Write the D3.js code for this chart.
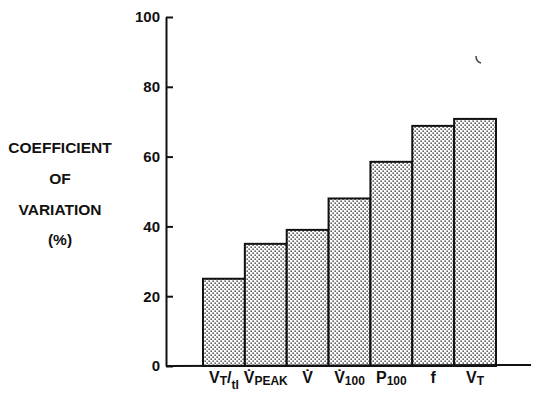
<!DOCTYPE html>
<html>
<head>
<meta charset="utf-8">
<script src="https://cdn.jsdelivr.net/npm/d3@7"></script>
<style>
  body { margin: 0; background: #fff; }
  svg { font-family: "Liberation Sans", Arial, sans-serif; font-weight: bold; }
</style>
</head>
<body>
<div id="chart"></div>
<script>
  // categories, as pieces: main text + subscript (+ dot over V for flow terms)
  const categories = ['VT/tI', 'VPEAK', 'Vdot', 'V100', 'P100', 'f', 'VT'];
  const labelParts = [
    [{ t: 'V' }, { t: 'T', sub: true }, { t: '/' }, { t: 'tI', sub: true, low: true }],
    [{ t: 'V\u0307' }, { t: 'PEAK', sub: true }],
    [{ t: 'V\u0307' }],
    [{ t: 'V\u0307' }, { t: '100', sub: true }],
    [{ t: 'P' }, { t: '100', sub: true }],
    [{ t: 'f' }],
    [{ t: 'V' }, { t: 'T', sub: true }]
  ];
  const values = [25, 35, 39, 48, 58.5, 68.8, 70.8];
  const yTicks = [0, 20, 40, 60, 80, 100];
  const yTitle = ['COEFFICIENT', 'OF', 'VARIATION', '(%)'];

  const W = 534, H = 396;
  const axisX = 166;

  const svg = d3.select('#chart')
    .append('svg')
      .attr('width', W)
      .attr('height', H);

  // dotted screen fill
  const defs = svg.append('defs');
  const pat = defs.append('pattern')
    .attr('id', 'dots')
    .attr('patternUnits', 'userSpaceOnUse')
    .attr('width', 4)
    .attr('height', 4);
  pat.append('rect').attr('width', 4).attr('height', 4).attr('fill', '#fff');
  pat.append('rect').attr('x', 0.5).attr('y', 0.5).attr('width', 1.3).attr('height', 1.3).attr('fill', '#111');
  pat.append('rect').attr('x', 2.5).attr('y', 2.5).attr('width', 1.3).attr('height', 1.3).attr('fill', '#111');

  const x = d3.scaleBand()
    .domain(categories)
    .range([203, 496])
    .padding(0);

  const y = d3.scaleLinear()
    .domain([0, 100])
    .range([366, 17]);

  // bars
  svg.append('g')
    .selectAll('rect')
    .data(values)
    .enter()
    .append('rect')
      .attr('x', (d, i) => x(categories[i]))
      .attr('y', d => y(d))
      .attr('width', x.bandwidth())
      .attr('height', d => y(0) - y(d))
      .attr('fill', 'url(#dots)')
      .attr('stroke', '#111')
      .attr('stroke-width', 2);

  // baseline
  svg.append('line')
    .attr('x1', axisX).attr('x2', 531)
    .attr('y1', y(0)).attr('y2', y(0) - 1)
    .attr('stroke', '#111')
    .attr('stroke-width', 2);

  // y axis: ticks point right, labels on the left
  const yAxis = svg.append('g')
    .attr('transform', `translate(${axisX},0)`)
    .call(d3.axisLeft(y).tickValues(yTicks).tickSizeInner(-7).tickSizeOuter(0).tickPadding(6));
  yAxis.select('.domain').attr('stroke', '#111').attr('stroke-width', 2);
  yAxis.selectAll('.tick line').attr('stroke', '#111').attr('stroke-width', 2);
  yAxis.selectAll('.tick text')
    .attr('fill', '#111')
    .style('font-size', '15px')
    .style('font-family', '"Liberation Sans", Arial, sans-serif')
    .style('font-weight', 'bold');

  // y title, four centred lines
  svg.append('g')
    .selectAll('text')
    .data(yTitle)
    .enter()
    .append('text')
      .attr('x', 60)
      .attr('y', (d, i) => [153, 184, 215, 245][i])
      .attr('text-anchor', 'middle')
      .attr('fill', '#111')
      .style('font-size', '15.5px')
      .text(d => d);

  // category labels with subscripts
  const labels = svg.append('g')
    .selectAll('text')
    .data(labelParts)
    .enter()
    .append('text')
      .attr('x', (d, i) => x(categories[i]) + x.bandwidth() / 2)
      .attr('y', 383)
      .attr('text-anchor', 'middle')
      .attr('fill', '#111')
      .style('font-size', '16px');

  labels.each(function(parts) {
    const t = d3.select(this);
    let shift = 0;
    parts.forEach(p => {
      const want = p.sub ? (p.low ? 6 : 2) : 0;
      t.append('tspan')
        .attr('dy', want - shift)
        .style('font-size', p.sub ? '12px' : '16px')
        .text(p.t);
      shift = want;
    });
  });

  // small stray mark on the original scan
  svg.append('path')
    .attr('d', 'M476,56 Q476,62 481,63')
    .attr('fill', 'none')
    .attr('stroke', '#444')
    .attr('stroke-width', 1.5);
</script>
</body>
</html>
